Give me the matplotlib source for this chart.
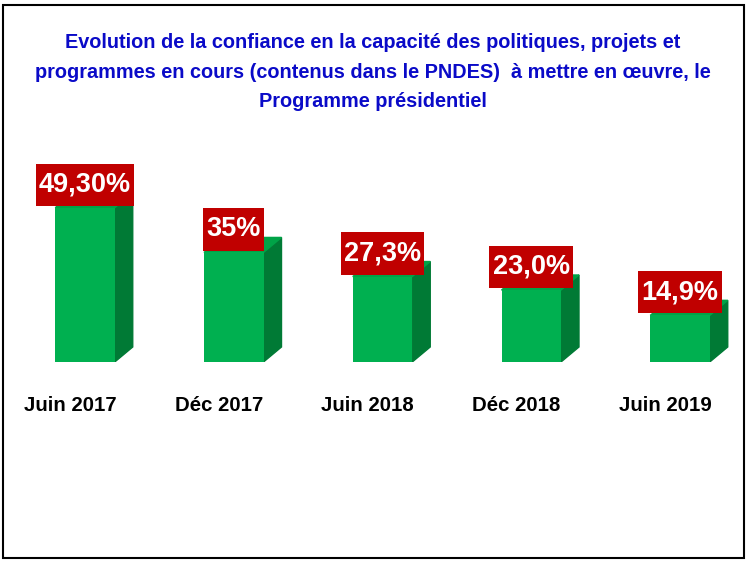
import matplotlib.pyplot as plt
from matplotlib.patches import Polygon, Rectangle

periods = ["Juin 2017", "Déc 2017", "Juin 2018", "Déc 2018", "Juin 2019"]
values = [49.3, 35.0, 27.3, 23.0, 14.9]
value_labels = ["49,30%", "35%", "27,3%", "23,0%", "14,9%"]

title = ("Evolution de la confiance en la capacité des politiques, projets et\n"
         "programmes en cours (contenus dans le PNDES)  à mettre en œuvre, le\n"
         "Programme présidentiel")

front = "#00B050"
side = "#007A35"
top = "#00A347"
width = 0.4
dx, dy = 0.121, 4.8  # depth of the fake 3D

fig = plt.figure(figsize=(7.46, 5.62), dpi=100)
ax = fig.add_axes([0, (562 - 362) / 562, 1, 232 / 562])
ax.set_xlim(-85 / 148.75, (746 - 85) / 148.75)
ax.set_ylim(0, 232 / 3.13)
ax.axis("off")

x = list(range(len(values)))
ax.bar(x, values, width=width, color=front, zorder=3)
for xi, v, lab in zip(x, values, value_labels):
    r = xi + width / 2
    l = xi - width / 2
    ax.add_patch(Polygon([(r, 0), (r + dx, dy), (r + dx, v + dy), (r, v)],
                         closed=True, color=side, zorder=2))
    ax.add_patch(Polygon([(l, v), (r, v), (r + dx, v + dy), (l + dx, v + dy)],
                         closed=True, color=top, zorder=2))
    ax.text(xi, v + 3.2, lab, ha="center", va="bottom", color="white",
            fontsize=19.5, fontweight="bold",
            family=["Liberation Sans", "DejaVu Sans"], zorder=5,
            bbox=dict(boxstyle="square,pad=0.12", mutation_aspect=2.5,
                      fc="#C00000", ec="none"))
    ax.text(xi - 0.1, -13.9, periods[xi], ha="center", va="center",
            color="black", fontsize=14.7, fontweight="bold",
            family=["Liberation Sans", "DejaVu Sans"], clip_on=False)

fig.text(0.5, 1 - 72 / 562, title, ha="center", va="center", color="#0A0AC8",
         fontsize=14.3, fontweight="bold", linespacing=1.72,
         family=["Liberation Sans", "DejaVu Sans"])

fig.patches.append(Rectangle((3.5 / 746, 4.5 / 562), 740.5 / 746, 553 / 562,
                             transform=fig.transFigure, fill=False,
                             ec="black", lw=1.5))

fig.savefig("out.png", dpi=100)
